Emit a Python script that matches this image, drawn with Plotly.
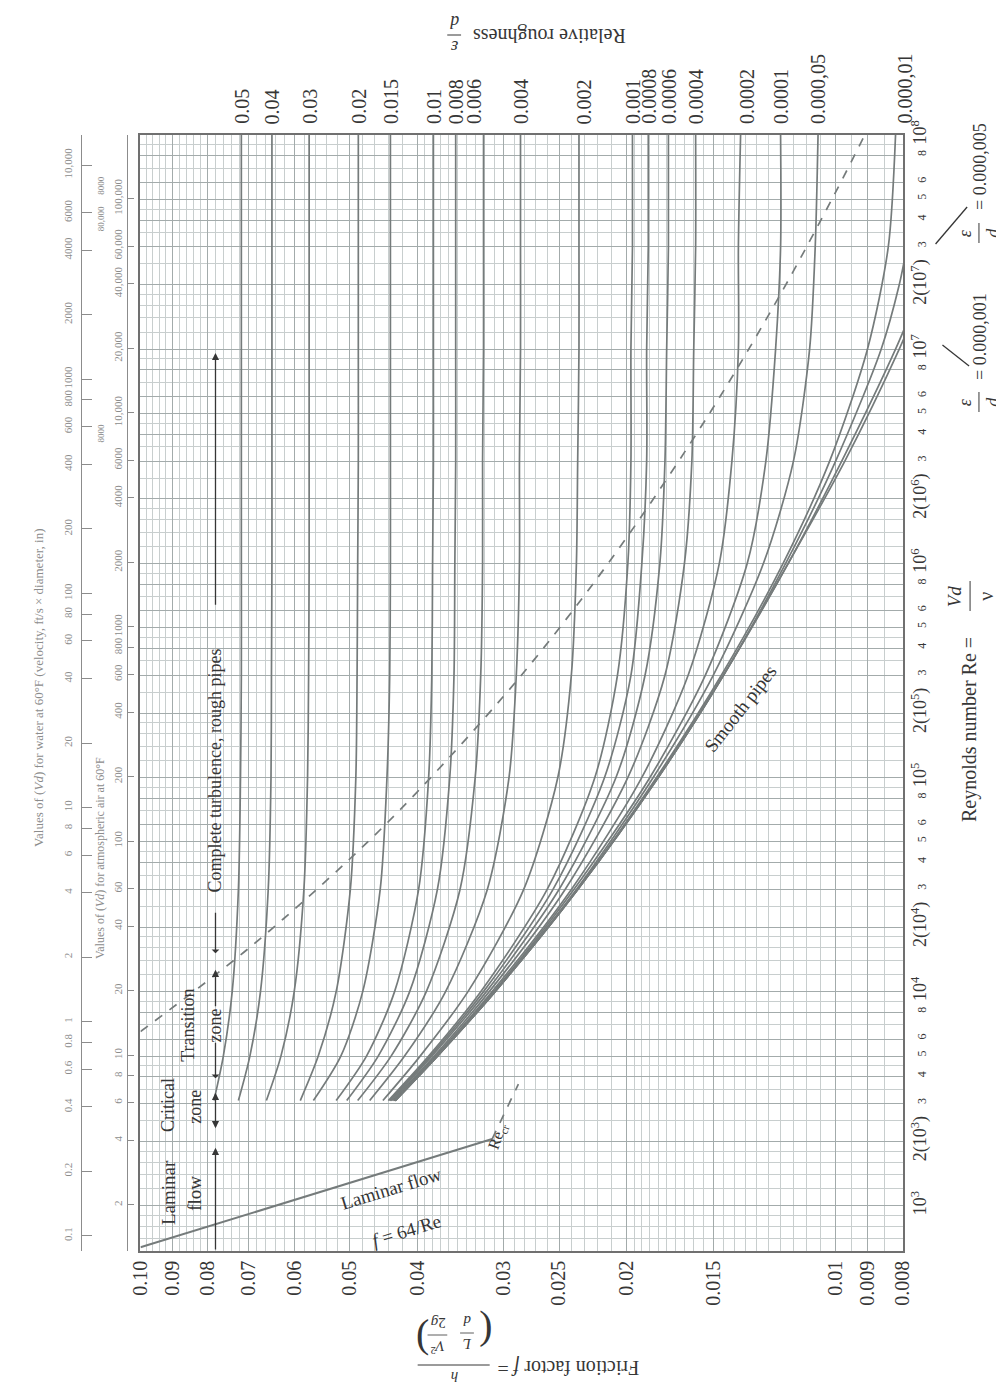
import math
import plotly.graph_objects as go

# ---------------- data ----------------
RE = [3100, 5000, 1e4, 3e4, 1e5, 3e5, 1e6, 3e6, 1e7, 3e7, 1e8]

ROUGHNESS_LABELS = ["0.05", "0.04", "0.03", "0.02", "0.015", "0.01", "0.008", "0.006",
                    "0.004", "0.002", "0.001", "0.0008", "0.0006", "0.0004", "0.0002",
                    "0.0001", "0.000,05", "0.000,01"]
f_0_05 = [0.0784, 0.0760, 0.0738, 0.0723, 0.0718, 0.0716, 0.0716, 0.0716, 0.0716, 0.0716, 0.0716]
f_0_04 = [0.0723, 0.0696, 0.0672, 0.0655, 0.0649, 0.0648, 0.0647, 0.0647, 0.0647, 0.0647, 0.0647]
f_0_03 = [0.0659, 0.0628, 0.0601, 0.0582, 0.0575, 0.0573, 0.0572, 0.0572, 0.0572, 0.0572, 0.0572]
f_0_02 = [0.0589, 0.0555, 0.0523, 0.0499, 0.0490, 0.0488, 0.0487, 0.0486, 0.0486, 0.0486, 0.0486]
f_0_015 = [0.0564, 0.0515, 0.0479, 0.0452, 0.0442, 0.0438, 0.0437, 0.0437, 0.0437, 0.0437, 0.0437]
f_0_01 = [0.0523, 0.0473, 0.0431, 0.0398, 0.0385, 0.0381, 0.0380, 0.0379, 0.0379, 0.0379, 0.0379]
f_0_008 = [0.0505, 0.0455, 0.0410, 0.0374, 0.0359, 0.0354, 0.0353, 0.0352, 0.0352, 0.0352, 0.0352]
f_0_006 = [0.0487, 0.0436, 0.0388, 0.0347, 0.0330, 0.0324, 0.0322, 0.0322, 0.0321, 0.0321, 0.0321]
f_0_004 = [0.0468, 0.0417, 0.0364, 0.0317, 0.0295, 0.0288, 0.0285, 0.0285, 0.0284, 0.0284, 0.0284]
f_0_002 = [0.0448, 0.0396, 0.0338, 0.0281, 0.0251, 0.0240, 0.0236, 0.0235, 0.0234, 0.0234, 0.0234]
f_0_001 = [0.0440, 0.0385, 0.0324, 0.0260, 0.0222, 0.0206, 0.0199, 0.0197, 0.0197, 0.0196, 0.0196]
f_0_0008 = [0.0438, 0.0383, 0.0321, 0.0255, 0.0215, 0.0197, 0.0190, 0.0187, 0.0187, 0.0186, 0.0186]
f_0_0006 = [0.0436, 0.0381, 0.0318, 0.0250, 0.0207, 0.0188, 0.0179, 0.0176, 0.0175, 0.0174, 0.0174]
f_0_0004 = [0.0434, 0.0378, 0.0315, 0.0245, 0.0199, 0.0176, 0.0165, 0.0161, 0.0160, 0.0159, 0.0159]
f_0_0002 = [0.0432, 0.0376, 0.0312, 0.0240, 0.0190, 0.0163, 0.0147, 0.0141, 0.0138, 0.0138, 0.0137]
f_0_0001 = [0.0431, 0.0375, 0.0310, 0.0238, 0.0185, 0.0154, 0.0134, 0.0126, 0.0122, 0.0120, 0.0120]
f_0_00005 = [0.0431, 0.0375, 0.0310, 0.0236, 0.0183, 0.0150, 0.0127, 0.0115, 0.0109, 0.0107, 0.0106]
f_0_00001 = [0.0430, 0.0374, 0.0309, 0.0235, 0.0181, 0.0146, 0.0119, 0.0102, 0.0090, 0.0084, 0.0082]

RE_FINE = [3100, 5000, 1e4, 3e4, 1e5, 3e5, 1e6, 3e6, 1e7, 2e7, 3e7]
f_0_000005 = [0.0430, 0.0374, 0.0309, 0.0235, 0.0180, 0.0145, 0.0118, 0.0100, 0.0086, 0.0081, 0.0079]
f_0_000001 = [0.0430, 0.0374, 0.0309, 0.0235, 0.0180, 0.0145, 0.0117, 0.0098, 0.0082, 0.0075]
f_smooth = [0.0430, 0.0374, 0.0309, 0.0235, 0.0180, 0.0145, 0.0117, 0.0097, 0.0081, 0.0074]

RE_LAMINAR = [640, 2050]
f_laminar = [0.100, 0.0312]
RE_LAMINAR_EXT = [2050, 3700]
f_laminar_ext = [0.0312, 0.0286]

DASH_F = [0.10, 0.07, 0.05, 0.04, 0.03, 0.025, 0.02, 0.015, 0.012, 0.01, 0.009]
DASH_RE = [6510, 15860, 41620, 85470, 240600, 496600, 1313000, 5340000, 18100000, 54100000, 106000000]

F_TICKS = [0.10, 0.09, 0.08, 0.07, 0.06, 0.05, 0.04, 0.03, 0.025, 0.02, 0.015, 0.01, 0.009, 0.008]
F_TICKTEXT = ["0.10", "0.09", "0.08", "0.07", "0.06", "0.05", "0.04", "0.03", "0.025",
              "0.02", "0.015", "0.01", "0.009", "0.008"]

RE_MULT = [1, 2, 3, 4, 5, 6, 8]
RE_DECADES = [3, 4, 5, 6, 7]
RE_MINOR_MULT = [1.2, 1.4, 1.6, 1.8, 2.5, 3.5, 4.5, 7, 9]

# zone limits along the arrow line (Reynolds numbers)
ZONE_RE = [615, 1866, 2265, 3372, 3873, 5768, 8400, 12640, 14850, 23350, 6.3e5, 9.6e6]
ZONE_F = 0.078

WATER_RE_PER_VD = 7240
AIR_RE_PER_VD = 505
WATER_VD = [0.1, 0.2, 0.4, 0.6, 0.8, 1, 2, 4, 6, 8, 10, 20, 40, 60, 80, 100, 200, 400,
            600, 800, 1000, 2000, 4000, 6000, 10000]
WATER_TEXT = ["0.1", "0.2", "0.4", "0.6", "0.8", "1", "2", "4", "6", "8", "10", "20", "40",
              "60", "80", "100", "200", "400", "600", "800", "1000", "2000", "4000", "6000",
              "10,000"]
WATER_INNER_VD = [8000]
WATER_INNER_TEXT = ["8000"]
AIR_VD = [2, 4, 6, 8, 10, 20, 40, 60, 100, 200, 400, 600, 800, 1000, 2000, 4000, 6000,
          10000, 20000, 40000, 60000, 100000]
AIR_TEXT = ["2", "4", "6", "8", "10", "20", "40", "60", "100", "200", "400", "600", "800",
            "1000", "2000", "4000", "6000", "10,000", "20,000", "40,000", "60,000", "100,000"]
AIR_INNER_VD = [8000, 80000]
AIR_INNER_TEXT = ["8000", "80,000"]

# ---------------- figure geometry ----------------
W, H = 1004, 1383
ML, MR, MT, MB = 10, 109, 127, 140
PW, PH = W - ML - MR, H - MT - MB
X0 = (122 - ML) / PW  # start of the chart domain


def P(px, py):
    return (px - ML) / PW, 1 - (py - MT) / PH


INK = "#363636"
SCALE_INK = "#8c8c8c"
CURVE = "#757b7b"
GRID_MAJ = "#a3abab"
GRID_MIN = "#c8cece"
SERIF = "Liberation Serif, Times New Roman, serif"

fig = go.Figure()

rough = [f_0_05, f_0_04, f_0_03, f_0_02, f_0_015, f_0_01, f_0_008, f_0_006, f_0_004,
         f_0_002, f_0_001, f_0_0008, f_0_0006, f_0_0004, f_0_0002, f_0_0001, f_0_00005,
         f_0_00001]
for vals in rough:
    fig.add_trace(go.Scatter(x=vals, y=RE[:len(vals)], mode="lines",
                             line=dict(color=CURVE, width=1.7, shape="spline", smoothing=0.8),
                             hoverinfo="skip", showlegend=False))
for vals in [f_0_000005, f_0_000001, f_smooth]:
    fig.add_trace(go.Scatter(x=vals, y=RE_FINE[:len(vals)], mode="lines",
                             line=dict(color=CURVE, width=1.7, shape="spline", smoothing=0.8),
                             hoverinfo="skip", showlegend=False))

fig.add_trace(go.Scatter(x=f_laminar, y=RE_LAMINAR, mode="lines",
                         line=dict(color=CURVE, width=2), hoverinfo="skip", showlegend=False))
fig.add_trace(go.Scatter(x=f_laminar_ext, y=RE_LAMINAR_EXT, mode="lines",
                         line=dict(color=CURVE, width=1.7, dash="dash"),
                         hoverinfo="skip", showlegend=False))
fig.add_trace(go.Scatter(x=DASH_F, y=DASH_RE, mode="lines",
                         line=dict(color=CURVE, width=1.7, dash="dash", shape="spline"),
                         hoverinfo="skip", showlegend=False))

# grid values
re_major = [m * 10 ** d for d in RE_DECADES for m in RE_MULT] + [1e8]
re_text = []
for d in RE_DECADES:
    for m in RE_MULT:
        if m == 1:
            re_text.append("10<sup>%d</sup>" % d)
        elif m == 2:
            re_text.append("2(10<sup>%d</sup>)" % d)
        else:
            re_text.append("<span style='font-size:12px'>%d</span>" % m)
re_text.append("10<sup>8</sup>")
re_minor = [m * 10 ** d for d in [2] + RE_DECADES for m in RE_MINOR_MULT] + [7e2, 8e2, 9e2]
re_minor = [v for v in re_minor if 615 < v < 1e8]

f_minor = []
for start, stop, step, nd in [(0.0085, 0.0099, 0.0005, 5), (0.0105, 0.0199, 0.0005, 5),
                              (0.021, 0.0399, 0.001, 4), (0.042, 0.0999, 0.002, 4)]:
    v = start
    while v < stop:
        f_minor.append(round(v, nd))
        v += step
f_minor = [x for x in f_minor if x not in F_TICKS]

fig.update_layout(
    width=W, height=H, margin=dict(l=ML, r=MR, t=MT, b=MB),
    paper_bgcolor="white", plot_bgcolor="white",
    font=dict(family=SERIF, color=INK),
    xaxis=dict(type="log", domain=[X0, 1], range=[math.log10(0.10), math.log10(0.008)],
               tickvals=F_TICKS, ticktext=F_TICKTEXT, tickangle=-90,
               tickfont=dict(size=20, family=SERIF, color=INK),
               showgrid=True, gridcolor=GRID_MAJ, gridwidth=1,
               minor=dict(tickvals=f_minor, showgrid=True, gridcolor=GRID_MIN, gridwidth=1, ticks=""),
               showline=True, linecolor="#707070", linewidth=1.6, mirror=True, ticks="",
               zeroline=False),
    yaxis=dict(type="log", side="right", range=[math.log10(615), 8],
               tickvals=re_major, ticktext=re_text, tickangle=-90,
               tickfont=dict(size=18, family=SERIF, color=INK),
               showgrid=True, gridcolor=GRID_MAJ, gridwidth=1,
               minor=dict(tickvals=re_minor, showgrid=True, gridcolor=GRID_MIN, gridwidth=1, ticks=""),
               showline=True, linecolor="#707070", linewidth=1.6, mirror=True, ticks="",
               zeroline=False),
    yaxis2=dict(type="log", overlaying="y", anchor="free", position=P(62, 0)[0], side="left",
                range=[math.log10(615 / WATER_RE_PER_VD), math.log10(1e8 / WATER_RE_PER_VD)],
                tickvals=WATER_VD, ticktext=WATER_TEXT, tickangle=-90,
                tickfont=dict(size=11, family=SERIF, color=SCALE_INK), ticklabelstandoff=5,
                ticks="inside", ticklen=10, tickcolor=SCALE_INK, tickwidth=1.3,
                showline=True, linecolor=SCALE_INK, linewidth=1.3, showgrid=False,
                zeroline=False),
    yaxis3=dict(type="log", overlaying="y", anchor="free", position=P(108, 0)[0], side="left",
                range=[math.log10(615 / AIR_RE_PER_VD), math.log10(1e8 / AIR_RE_PER_VD)],
                tickvals=AIR_VD, ticktext=AIR_TEXT, tickangle=-90,
                tickfont=dict(size=11, family=SERIF, color=SCALE_INK),
                ticks="inside", ticklen=6, tickcolor=SCALE_INK, tickwidth=1.3,
                showline=True, linecolor=SCALE_INK, linewidth=1.3, showgrid=False,
                zeroline=False),
)
fig.add_trace(go.Scatter(x=[None], y=[None], yaxis="y2", showlegend=False))
fig.add_trace(go.Scatter(x=[None], y=[None], yaxis="y3", showlegend=False))

ann = []
shapes = []

# critical-zone shading where the turbulent curves begin
shapes.append(dict(type="rect", xref="x", yref="y", layer="below",
                   x0=math.log10(0.0725), x1=math.log10(0.0425),
                   y0=math.log10(3080), y1=math.log10(3450),
                   fillcolor="#d7dcdc", line=dict(width=0)))


def text(px, py, s, size=18, angle=-90, color=INK):
    x, y = P(px, py)
    ann.append(dict(x=x, y=y, xref="paper", yref="paper", text=s, showarrow=False,
                    xanchor="center", yanchor="middle",
                    textangle=angle, font=dict(size=size, family=SERIF, color=color)))


def seg(x0, y0, x1, y1, w=1.0):
    a, b = P(x0, y0)
    c, d = P(x1, y1)
    shapes.append(dict(type="line", xref="paper", yref="paper", x0=a, y0=b, x1=c, y1=d,
                       line=dict(color=INK, width=w)))


# crowded scale labels set between the two scale lines
for vals, txts, ratio in [(WATER_INNER_VD, WATER_INNER_TEXT, WATER_RE_PER_VD),
                          (AIR_INNER_VD, AIR_INNER_TEXT, AIR_RE_PER_VD)]:
    for vd, t in zip(vals, txts):
        ann.append(dict(x=P(82, 0)[0], y=math.log10(vd * ratio), xref="paper", yref="y",
                        text=t, showarrow=False, textangle=-90, xanchor="center",
                        yanchor="middle", font=dict(size=9, family=SERIF, color=SCALE_INK)))

# relative roughness labels at top of each curve
shifts = {"0.006": -10, "0.002": 5, "0.0002": 6, "0.000,01": 9}
for lbl, vals in zip(ROUGHNESS_LABELS, rough):
    ann.append(dict(x=math.log10(vals[-1]), y=1, xref="x", yref="paper", text=lbl,
                    showarrow=False, textangle=-90, xanchor="center", yanchor="bottom",
                    yshift=9, xshift=shifts.get(lbl, 0),
                    font=dict(size=20, family=SERIF, color=INK)))

# titles
text(536, 28, "Relative roughness", size=20, angle=180)
text(440, 39, "<i>ε</i>", size=18, angle=180)
text(440, 14, "<i>d</i>", size=18, angle=180)
seg(433, 27, 447, 27)

text(556, 1360, "Friction factor <i>f</i> =", size=20, angle=180)
text(440, 1369, "<i>h</i>", size=15, angle=180)
seg(403, 1357, 476, 1357)
text(472, 1325, "(", size=40, angle=180)
text(408, 1325, "(", size=40, angle=0)
text(453, 1336, "<i>L</i>", size=15, angle=180)
text(453, 1313, "<i>d</i>", size=15, angle=180)
seg(446, 1325, 460, 1325, 0.8)
text(423, 1339, "<i>V</i><sup>2</sup>", size=15, angle=180)
text(423, 1315, "2<i>g</i>", size=15, angle=180)
seg(413, 1327, 433, 1327, 0.8)

text(962, 722, "Reynolds number Re =", size=20)
text(947, 588, "<i>Vd</i>", size=19)
text(979, 588, "ν", size=20)
seg(963, 573, 963, 603)

# epsilon/d labels on the right
for yc, yv, s in [(225, 158, "= 0.000,005"), (394, 328, "= 0.000,001")]:
    text(958, yc, "<i>ε</i>", size=18)
    text(986, yc, "<i>d</i>", size=18)
    seg(972, yc - 10, 972, yc + 10)
    text(973, yv, s, size=18)
seg(928, 236, 960, 199, 1.3)
seg(935, 337, 962, 358, 1.3)

# left scale titles
text(19, 680, "Values of (<i>Vd</i>) for water at 60°F (velocity, ft/s × diameter, in)",
     size=13, color=SCALE_INK)
text(81, 850, "Values of (<i>Vd</i>) for atmospheric air at 60°F", size=12, color=SCALE_INK)

# flow regime labels
text(150, 1185, "Laminar", size=19)
text(176, 1185, "flow", size=19)
text(150, 1097, "Critical", size=18)
text(177, 1099, "zone", size=18)
text(170, 1017, "Transition", size=18)
text(198, 1017, "zone", size=18)
text(198, 762, "Complete turbulence, rough pipes", size=18)
text(376, 1180, "Laminar flow", size=19, angle=-17)
text(392, 1222, "<i>f</i> = 64/Re", size=19, angle=-17)
text(484, 1128, "Re<sub>cr</sub>", size=16, angle=-70)
text(730, 700, "Smooth pipes", size=19, angle=-52)

# zone arrows along the f = 0.078 line
FA = math.log10(ZONE_F)
L = math.log10
sides = ["end", "end+start", "start", "end", "start", "end"]
for i, side in enumerate(sides):
    r0, r1 = ZONE_RE[2 * i], ZONE_RE[2 * i + 1]
    ann.append(dict(x=FA, y=L(r1), ax=FA, ay=L(r0), xref="x", yref="y", axref="x", ayref="y",
                    text="", showarrow=True, arrowhead=2, arrowsize=1.1, arrowwidth=1.3,
                    arrowcolor=INK, arrowside=side, standoff=0, startstandoff=0))

fig.update_layout(annotations=ann, shapes=shapes)
fig.write_html("out.html")
